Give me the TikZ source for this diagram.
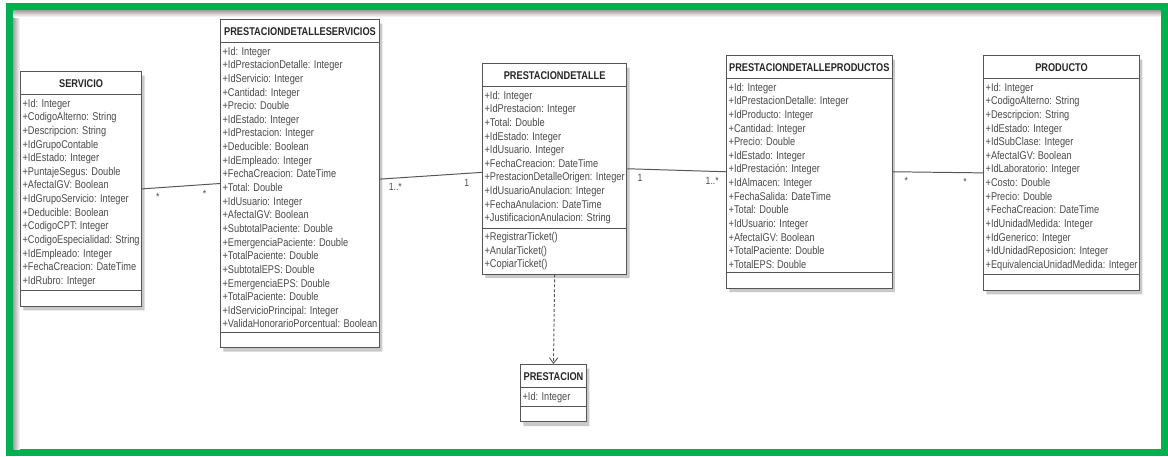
\documentclass[tikz,border=0pt]{standalone}
\usepackage{fontspec}
\setmainfont{Liberation Sans}[FakeStretch=0.82]
\usetikzlibrary{shapes.multipart,shadows,arrows.meta}
\pgfdeclarelayer{edgelayer}
\pgfdeclarelayer{nodelayer}
\pgfsetlayers{edgelayer,nodelayer,main}
\definecolor{framegreen}{RGB}{0,176,80}
\definecolor{umlline}{RGB}{85,85,85}
\definecolor{umltext}{RGB}{75,75,75}
\tikzset{font=\fontsize{8}{9.7}\selectfont}
\tikzstyle{umlclass}=[rectangle split,rectangle split parts=3,rectangle split part align={center,left,left},draw=umlline,line width=0.7pt,fill=white,align=left,inner xsep=1.5pt,inner ysep=2.5pt,anchor=north west,text=umltext,drop shadow={shadow xshift=2pt,shadow yshift=-3pt,opacity=0.3,fill=black!70}]
\tikzstyle{assoc}=[draw=umlline,line width=0.7pt]
\tikzstyle{mult}=[inner sep=0pt,text=umltext,font=\fontsize{7.5}{9}\selectfont,below=3.5pt]
\tikzstyle{dep}=[draw=umlline,line width=0.7pt,dash pattern=on 2pt off 1.5pt,-{Straight Barb[length=4pt,width=6pt,line width=0.6pt]}]
\tikzstyle{frame}=[draw=framegreen,line width=7.5*0.025cm]
% class title with a fixed row height
\newcommand{\hd}[1]{\rule[-2.6pt]{0pt}{11pt}\textcolor{black!85}{\textbf{#1}}}

\begin{document}
\begin{tikzpicture}[x=0.025cm,y=-0.025cm]
	\useasboundingbox (0,0) rectangle (1168,456);
	\begin{pgfonlayer}{nodelayer}
		\node [style=umlclass,minimum width=3cm] (0) at (20,71) {\hd{SERVICIO}
			\nodepart{two}+Id: Integer\\+CodigoAlterno: String\\+Descripcion: String\\+IdGrupoContable\\+IdEstado: Integer\\+PuntajeSegus: Double\\+AfectaIGV: Boolean\\+IdGrupoServicio: Integer\\+Deducible: Boolean\\+CodigoCPT: Integer\\+CodigoEspecialidad: String\\+IdEmpleado: Integer\\+FechaCreacion: DateTime\\+IdRubro: Integer
			\nodepart{three}};
		\node [style=umlclass,minimum width=3.925cm] (1) at (220,19) {\hd{PRESTACIONDETALLESERVICIOS}
			\nodepart{two}+Id: Integer\\+IdPrestacionDetalle: Integer\\+IdServicio: Integer\\+Cantidad: Integer\\+Precio: Double\\+IdEstado: Integer\\+IdPrestacion: Integer\\+Deducible: Boolean\\+IdEmpleado: Integer\\+FechaCreacion: DateTime\\+Total: Double\\+IdUsuario: Integer\\+AfectaIGV: Boolean\\+SubtotalPaciente: Double\\+EmergenciaPaciente: Double\\+TotalPaciente: Double\\+SubtotalEPS: Double\\+EmergenciaEPS: Double\\+TotalPaciente: Double\\+IdServicioPrincipal: Integer\\+ValidaHonorarioPorcentual: Boolean
			\nodepart{three}};
		\node [style=umlclass,minimum width=3.58cm] (2) at (482,63) {\hd{PRESTACIONDETALLE}
			\nodepart{two}+Id: Integer\\+IdPrestacion: Integer\\+Total: Double\\+IdEstado: Integer\\+IdUsuario. Integer\\+FechaCreacion: DateTime\\+PrestacionDetalleOrigen: Integer\\+IdUsuarioAnulacion: Integer\\+FechaAnulacion: DateTime\\+JustificacionAnulacion: String
			\nodepart{three}+RegistrarTicket()\\+AnularTicket()\\+CopiarTicket()};
		\node [style=umlclass,minimum width=4.14cm] (3) at (726,55) {\hd{PRESTACIONDETALLEPRODUCTOS}
			\nodepart{two}+Id: Integer\\+IdPrestacionDetalle: Integer\\+IdProducto: Integer\\+Cantidad: Integer\\+Precio: Double\\+IdEstado: Integer\\+IdPrestación: Integer\\+IdAlmacen: Integer\\+FechaSalida: DateTime\\+Total: Double\\+IdUsuario: Integer\\+AfectaIGV: Boolean\\+TotalPaciente: Double\\+TotalEPS: Double
			\nodepart{three}};
		\node [style=umlclass,minimum width=3.8cm] (4) at (983,55) {\hd{PRODUCTO}
			\nodepart{two}+Id: Integer\\+CodigoAlterno: String\\+Descripcion: String\\+IdEstado: Integer\\+IdSubClase: Integer\\+AfectaIGV: Boolean\\+IdLaboratorio: Integer\\+Costo: Double\\+Precio: Double\\+FechaCreacion: DateTime\\+IdUnidadMedida: Integer\\+IdGenerico: Integer\\+IdUnidadReposicion: Integer\\+EquivalenciaUnidadMedida: Integer
			\nodepart{three}};
		\node [style=umlclass,minimum width=1.65cm] (5) at (520,364) {\hd{PRESTACION}
			\nodepart{two}+Id: Integer
			\nodepart{three}};
	\end{pgfonlayer}
	\begin{pgfonlayer}{edgelayer}
		\draw [style=frame] (9.75,6.75) rectangle (1164.25,452.25);
		\shade [left color=black!35,right color=white] (13.5,10.5) rectangle (20,449);
		\shade [top color=black!35,bottom color=white] (13.5,10.5) rectangle (1160.5,17);
		\draw [style=assoc] (0.east) to node [style=mult,pos=0.2] {*} node [style=mult,pos=0.8] {*} (1.west);
		\draw [style=assoc] ([yshift=0.11cm]1.east) to node [style=mult,pos=0.15] {1..*} node [style=mult,pos=0.85] {1} ([yshift=-0.09cm]2.west);
		\draw [style=assoc] (2.east) to node [style=mult,pos=0.13] {1} node [style=mult,pos=0.86] {1..*} (3.west);
		\draw [style=assoc] (3.east) to node [style=mult,pos=0.15] {*} node [style=mult,pos=0.8] {*} (4.west);
		\draw [style=dep] (2.south) to (5.north);
	\end{pgfonlayer}
\end{tikzpicture}
\end{document}
